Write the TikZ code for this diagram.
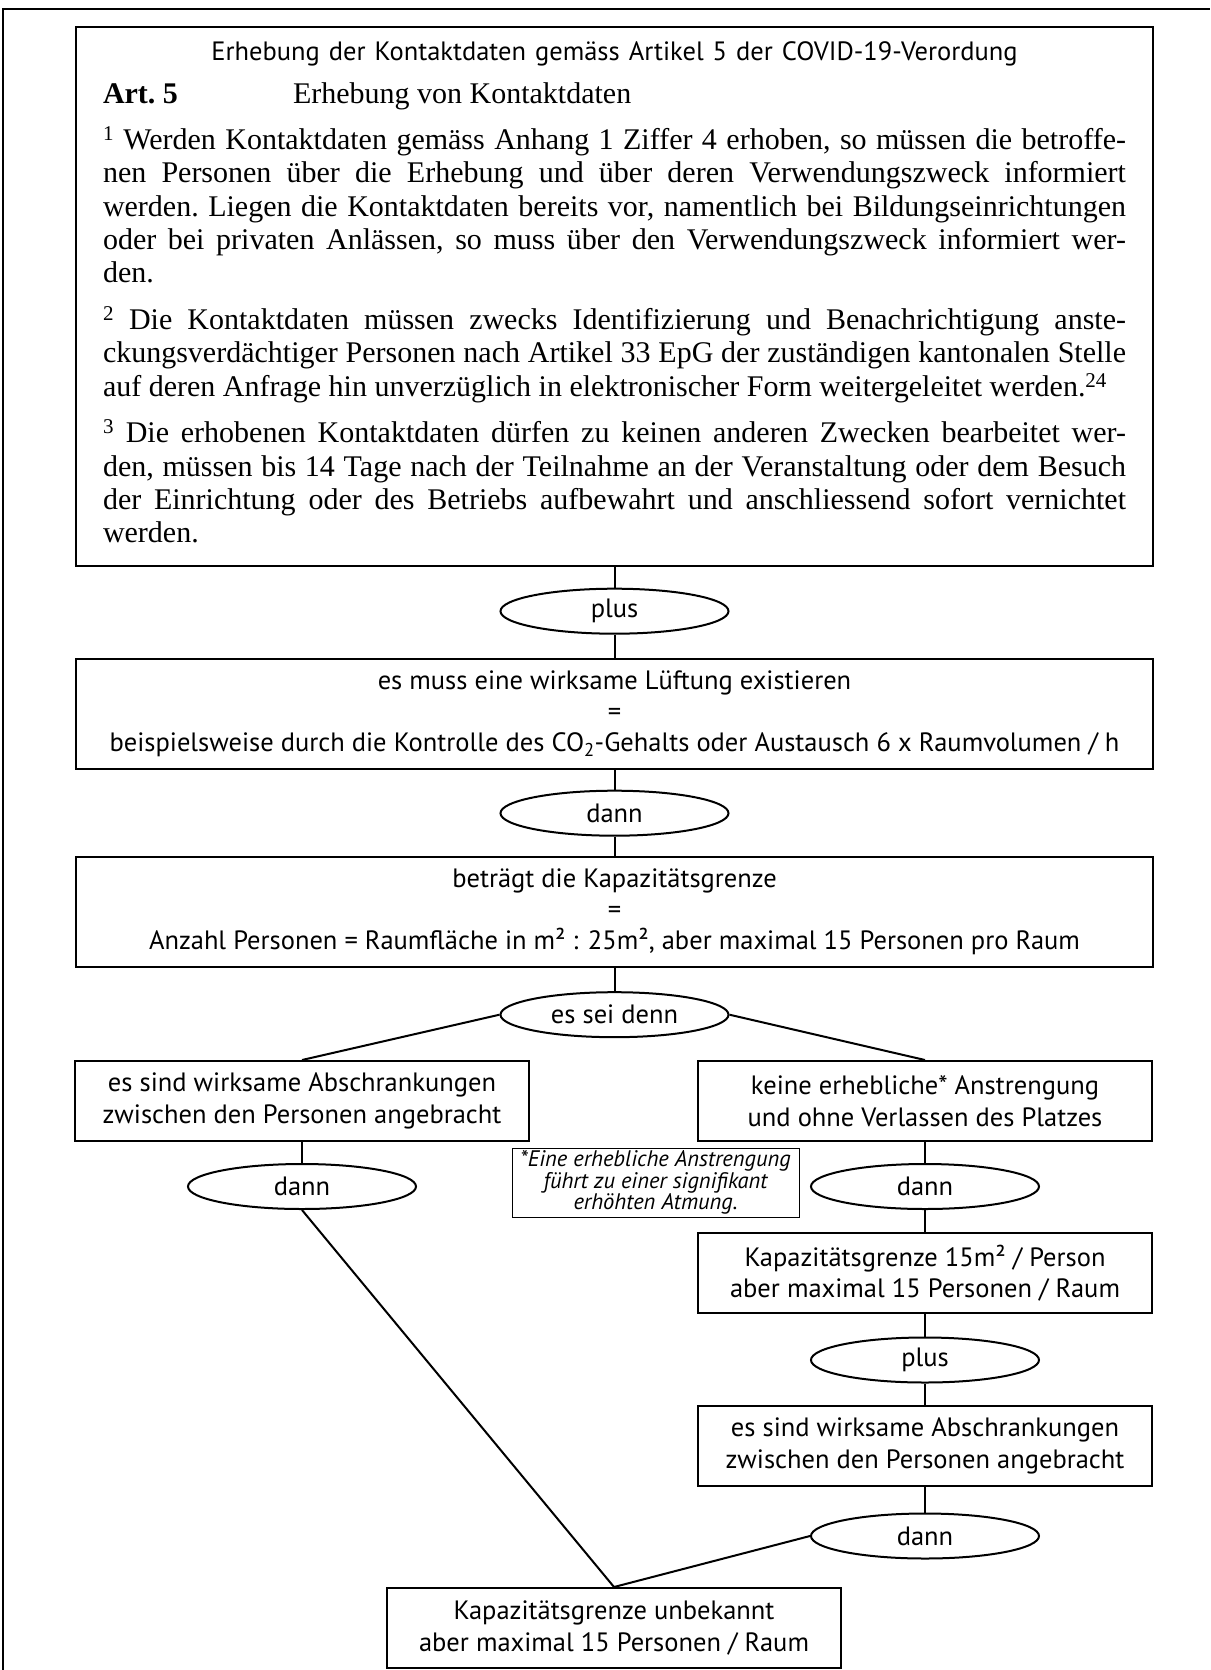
\documentclass[tikz,border=0pt]{standalone}
\usepackage{fontspec}
\setmainfont{Liberation Serif}
\setsansfont{PT Sans}
\usepackage{tikz}
\usetikzlibrary{shapes.geometric,positioning}

\newcommand{\flowfont}{\sffamily\fontsize{26.5}{31.4}\selectfont}
\newcommand{\artfont}{\rmfamily\fontsize{30}{33.3}\selectfont\frenchspacing
  \spaceskip=7.5pt plus 12pt minus 1.8pt}
\newcommand{\fullline}[1]{\hbox to 1023pt{#1}}

\begin{document}
\begin{tikzpicture}[x=1pt, y=-1pt, node distance=22pt,
  block/.style={rectangle, draw, line width=2pt, font=\flowfont, align=center, inner sep=0pt},
  wideblock/.style={block, minimum width=1077pt, minimum height=110pt},
  smallblock/.style={block, minimum width=454pt, minimum height=80pt},
  link/.style={ellipse, draw, line width=2pt, font=\flowfont, minimum width=228pt, minimum height=45pt, inner sep=0pt},
  note/.style={rectangle, draw, line width=0.9pt, font=\sffamily\itshape\fontsize{22.5}{21.8}\selectfont, align=center, minimum width=287pt, minimum height=69pt, inner sep=0pt},
  line/.style={draw, line width=2pt}]

  \useasboundingbox (0,0) rectangle (1210,1670);
  % page frame, only left and top edge visible
  \draw [line width=2.4pt] (3,1670) -- (3,9) -- (1210,9);

  \node [rectangle, draw, line width=2pt, text width=1023pt, inner xsep=27pt, inner ysep=15pt, anchor=north] (art) at (614.5,26) {%
    \parindent=0pt
    {\centering\flowfont\spaceskip=9pt plus 3pt minus 1pt
      Erhebung der Kontaktdaten gemäss Artikel 5 der COVID-19-Verordung\par}
    \artfont
    \vskip 9pt
    \hbox{\makebox[190pt][l]{\bfseries Art. 5}Erhebung von Kontaktdaten}
    \vskip 13pt
    \fullline{\textsuperscript{1} Werden Kontaktdaten gemäss Anhang 1 Ziffer 4 erhoben, so müssen die betroffe-}
    \fullline{nen Personen über die Erhebung und über deren Verwendungszweck informiert}
    \fullline{werden. Liegen die Kontaktdaten bereits vor, namentlich bei Bildungseinrichtungen}
    \fullline{oder bei privaten Anlässen, so muss über den Verwendungszweck informiert wer-}
    \hbox{den.}
    \vskip 13.5pt
    \fullline{\textsuperscript{2} Die Kontaktdaten müssen zwecks Identifizierung und Benachrichtigung anste-}
    \fullline{ckungsverdächtiger Personen nach Artikel 33 EpG der zuständigen kantonalen Stelle}
    \hbox{auf deren Anfrage hin unverzüglich in elektronischer Form weitergeleitet werden.\textsuperscript{24}}
    \vskip 13.5pt
    \fullline{\textsuperscript{3} Die erhobenen Kontaktdaten dürfen zu keinen anderen Zwecken bearbeitet wer-}
    \fullline{den, müssen bis 14 Tage nach der Teilnahme an der Veranstaltung oder dem Besuch}
    \fullline{der Einrichtung oder des Betriebs aufbewahrt und anschliessend sofort vernichtet}
    \hbox{werden.}
    \kern 7.5pt
  };

  \node [link, below=21pt of art] (plus1) {plus};
  \node [wideblock, below=23pt of plus1] (luft) {es muss eine wirksame Lüftung existieren\\=\\beispielsweise durch die Kontrolle des CO\textsubscript{2}-Gehalts oder Austausch 6 x Raumvolumen / h};
  \node [link, below=20pt of luft] (dann1) {dann};
  \node [wideblock, below=19pt of dann1] (grenze) {beträgt die Kapazitätsgrenze\\=\\Anzahl Personen = Raumfläche in m² : 25m², aber maximal 15 Personen pro Raum};
  \node [link, below=23.5pt of grenze] (esseidenn) {es sei denn};

  \node [smallblock, anchor=north] (schranke) at (302,1060) {es sind wirksame Abschrankungen\\zwischen den Personen angebracht};
  \node [smallblock, anchor=north] (ruhig) at (925,1060) {keine erhebliche* Anstrengung\\und ohne Verlassen des Platzes};
  \node [link, below=21pt of schranke] (dannL) {dann};
  \node [link, below=21pt of ruhig] (dannR) {dann};
  \node [note] (hinweis) at (655.5,1182.5) {*Eine erhebliche Anstrengung\\führt zu einer signifikant\\erhöhten Atmung.};

  \node [smallblock, below=22pt of dannR] (kap15) {Kapazitätsgrenze 15m² / Person\\aber maximal 15 Personen / Raum};
  \node [link, below=22.5pt of kap15] (plus2) {plus};
  \node [smallblock, below=21.5pt of plus2] (schranke2) {es sind wirksame Abschrankungen\\zwischen den Personen angebracht};
  \node [link, below=25.5pt of schranke2] (dann2) {dann};
  \node [smallblock, anchor=north] (unbekannt) at (614,1587) {Kapazitätsgrenze unbekannt\\aber maximal 15 Personen / Raum};

  \draw [line] (art) -- (plus1);
  \draw [line] (plus1) -- (luft);
  \draw [line] (luft) -- (dann1);
  \draw [line] (dann1) -- (grenze);
  \draw [line] (grenze) -- (esseidenn);
  \draw [line] (esseidenn.west) -- (schranke.north);
  \draw [line] (esseidenn.east) -- (ruhig.north);
  \draw [line] (schranke) -- (dannL);
  \draw [line] (dannL.south) -- (unbekannt.north);
  \draw [line] (ruhig) -- (dannR);
  \draw [line] (dannR) -- (kap15);
  \draw [line] (kap15) -- (plus2);
  \draw [line] (plus2) -- (schranke2);
  \draw [line] (schranke2) -- (dann2);
  \draw [line] (dann2.west) -- (unbekannt.north);
\end{tikzpicture}
\end{document}
